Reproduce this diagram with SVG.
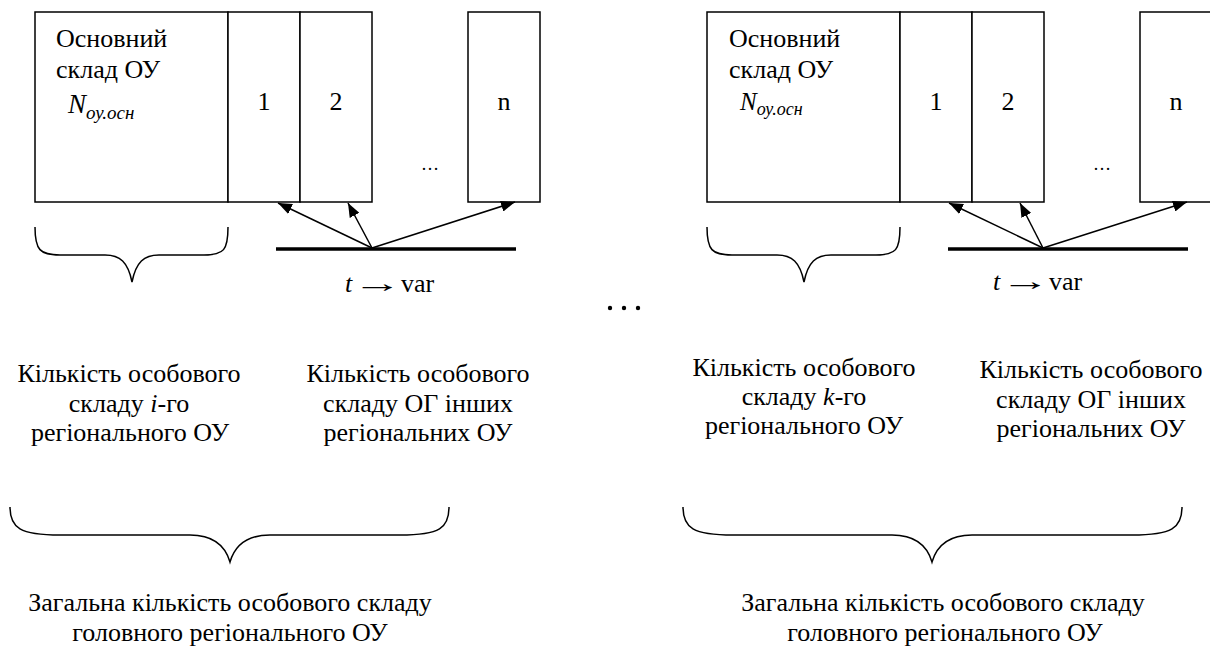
<svg xmlns="http://www.w3.org/2000/svg" width="1210" height="646" viewBox="0 0 1210 646">
<style>
text{font-family:"Liberation Serif","Times New Roman",serif;font-size:26px;fill:#000}
.box{fill:#fff;stroke:#000;stroke-width:1.5}
.br{fill:none;stroke:#000;stroke-width:1.5}
.bar{stroke:#000;stroke-width:3.5}
.arr{stroke:#000;stroke-width:1.5;fill:none;marker-end:url(#ah)}
.it{font-style:italic}
.nn{font-style:italic;font-size:27px}
.sub{font-size:19px;font-style:italic}
.c{text-anchor:middle}
.dt{font-size:18px}
</style>
<defs>
<marker id="ah" viewBox="0 0 14 11" refX="14" refY="5.5" markerWidth="14" markerHeight="11" markerUnits="userSpaceOnUse" orient="auto">
<path d="M0,0 L14,5.5 L0,11 z" fill="#000"/>
</marker>
</defs>
<rect width="1210" height="646" fill="#fff"/>
<g id="left-main">
<rect class="box" x="35" y="12" width="193" height="190"/>
<text x="56" y="47">Основний</text>
<text x="56" y="78">склад ОУ</text>
<text x="68" y="113"><tspan class="nn">N</tspan><tspan class="sub" dy="6">оу.осн</tspan></text>
</g>
<g id="left-b1"><rect class="box" x="228" y="12" width="72" height="190"/><text class="c" x="264" y="110">1</text></g>
<g id="left-b2"><rect class="box" x="300" y="12" width="72" height="190"/><text class="c" x="336" y="110">2</text></g>
<g id="left-dots"><text class="c dt" x="430" y="170">…</text></g>
<g id="left-bn"><rect class="box" x="468" y="12" width="72" height="190"/><text class="c" x="504" y="110">n</text></g>
<g id="left-bar"><line class="bar" x1="276" y1="249" x2="516" y2="249"/>
<text x="345" y="292"><tspan class="it">t</tspan><tspan x="401">var</tspan></text>
<text transform="translate(353,292) scale(1.9,1)">→</text></g>

<g id="right-main">
<rect class="box" x="707" y="12" width="193" height="190"/>
<text x="729" y="47">Основний</text>
<text x="729" y="78">склад ОУ</text>
<text x="740" y="110"><tspan class="nn" style="font-size:25px">N</tspan><tspan class="sub" style="font-size:18px" dy="5">оу.осн</tspan></text>
</g>
<g id="right-b1"><rect class="box" x="900" y="12" width="72" height="190"/><text class="c" x="936" y="110">1</text></g>
<g id="right-b2"><rect class="box" x="972" y="12" width="72" height="190"/><text class="c" x="1008" y="110">2</text></g>
<g id="right-dots"><text class="c dt" x="1102" y="170">…</text></g>
<g id="right-bn"><rect class="box" x="1140" y="12" width="72" height="190"/><text class="c" x="1176" y="110">n</text></g>
<g id="right-bar"><line class="bar" x1="948" y1="249" x2="1188" y2="249"/>
<text x="993" y="290"><tspan class="it">t</tspan><tspan x="1049">var</tspan></text>
<text transform="translate(1001,290) scale(1.9,1)">→</text></g>

<g id="connectors">
<line class="arr" x1="372" y1="248" x2="278" y2="203"/>
<line class="arr" x1="372" y1="248" x2="348" y2="203"/>
<line class="arr" x1="372" y1="248" x2="515" y2="202"/>
<line class="arr" x1="1043" y1="248" x2="949" y2="203"/>
<line class="arr" x1="1043" y1="248" x2="1020" y2="203"/>
<line class="arr" x1="1043" y1="248" x2="1187" y2="202"/>
</g>

<g id="braces">
<path class="br" d="M35,227 C35,250 40,255 60,255 L105,255 C120,255 128,262 132,282 C136,262 144,255 159,255 L204,255 C224,255 228,250 228,227"/>
<path class="br" d="M707,227 C707,250 712,255 732,255 L777,255 C792,255 800,262 804,282 C808,262 816,255 831,255 L876,255 C896,255 900,250 900,227"/>
<path class="br" d="M10,507 C10,528 20,535 60,535 L190,535 C212,535 225,545 230,562 C235,545 248,535 270,535 L400,535 C440,535 449,528 449,507"/>
<path class="br" d="M683,507 C683,528 693,535 733,535 L892,535 C914,535 927,545 932,562 C937,545 950,535 972,535 L1132,535 C1172,535 1182,528 1182,507"/>
</g>

<g id="mid-dots">
<circle cx="610" cy="308" r="2.2"/><circle cx="624" cy="308" r="2.2"/><circle cx="638" cy="308" r="2.2"/>
</g>

<g id="label-1">
<text class="c" x="129" y="382">Кількість особового</text>
<text class="c" x="129" y="412">складу <tspan class="it">i</tspan>-го</text>
<text class="c" x="130" y="441">регіонального ОУ</text>
</g>
<g id="label-2">
<text class="c" x="418" y="382">Кількість особового</text>
<text class="c" x="418" y="412">складу ОГ інших</text>
<text class="c" x="418" y="441">регіональних ОУ</text>
</g>
<g id="label-3">
<text class="c" x="804" y="376">Кількість особового</text>
<text class="c" x="804" y="405">складу <tspan class="it">k</tspan>-го</text>
<text class="c" x="804" y="434">регіонального ОУ</text>
</g>
<g id="label-4">
<text class="c" x="1091" y="378">Кількість особового</text>
<text class="c" x="1091" y="408">складу ОГ інших</text>
<text class="c" x="1091" y="437">регіональних ОУ</text>
</g>
<g id="label-5">
<text class="c" x="230" y="611">Загальна кількість особового складу</text>
<text class="c" x="230" y="641">головного регіонального ОУ</text>
</g>
<g id="label-6">
<text class="c" x="943" y="611">Загальна кількість особового складу</text>
<text class="c" x="945" y="641">головного регіонального ОУ</text>
</g>
</svg>
